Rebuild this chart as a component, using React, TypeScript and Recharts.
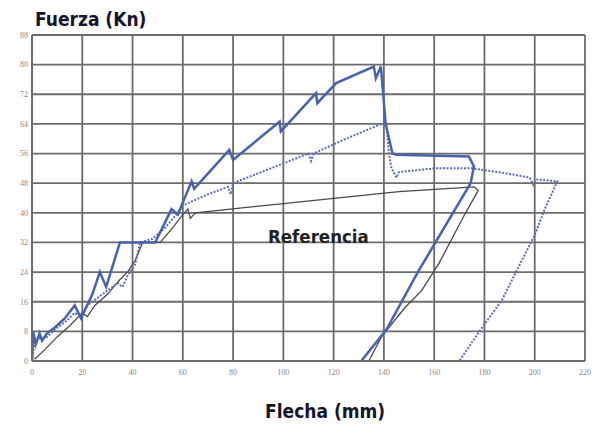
import React from 'react';
import { LineChart, Line, XAxis, YAxis, CartesianGrid } from 'recharts';

// Flecha (mm) vs Fuerza (Kn)
const xTicks = [0, 20, 40, 60, 80, 100, 120, 140, 160, 180, 200, 220];
const yTicks = [0, 8, 16, 24, 32, 40, 48, 56, 64, 72, 80, 88];

// solid blue specimen
const solidBlue: [number, number][] = [
  [0, 0], [0.5, 8], [1.5, 4.5], [3, 7.5], [4, 5.5], [6, 7.5], [9, 9], [13, 11.5],
  [17, 15], [19.5, 11.5], [24, 18], [27, 24], [29.5, 20], [35, 32], [49, 32],
  [55.5, 41], [58, 39.5], [63.5, 48.5], [64.5, 46.5], [78.5, 57], [80, 54.3],
  [98.5, 64.6], [99, 62], [113, 72.3], [113.5, 69.6], [121, 75], [136, 79.5],
  [136.8, 76.3], [138.8, 79.5], [140.7, 64], [143.4, 56], [145, 55.7],
  [173.8, 55.2], [175.8, 52.5], [174.5, 48], [153.5, 24], [141, 8.5], [131, 0],
];

// dotted blue specimen
const dottedBlue: [number, number][] = [
  [0, 0], [1, 5], [3, 6], [6, 6.5], [10, 9], [14, 11], [17, 13], [19, 12],
  [22, 15], [26, 17], [30, 19], [34, 21], [36, 20], [38, 23], [41, 26], [43, 32],
  [48, 33], [53, 36], [58, 40], [60, 42], [70, 45], [78, 47], [79, 45], [80, 48],
  [95, 52], [110, 56], [111, 54], [112, 56], [125, 60], [139, 64], [141, 63.7],
  [142, 56], [143, 52], [145, 49.5], [146, 51], [160, 52], [175, 52], [190, 50.5],
  [198, 49.5], [199.5, 47.5], [201, 49], [209, 48.5], [204, 41], [200, 34],
  [194, 26], [187, 16.5], [178, 8], [170, 0],
];

// thin grey "Referencia"
const referencia: [number, number][] = [
  [1, 0.5], [5, 3], [10, 6.5], [15, 9.5], [20, 13], [22, 12], [25, 15], [30, 18],
  [35, 22], [38, 24], [41, 27], [44, 32], [51, 32], [56, 36], [60, 39.5], [62, 41],
  [63, 38.5], [65, 40], [100, 42.5], [146, 45.7], [176, 47], [177.5, 46],
  [172.5, 40], [162, 26.5], [155, 19], [148.5, 14.5], [139, 6.5], [134, 0],
];

const toRows = (pts: [number, number][]) => pts.map(([x, y]) => ({ x, y }));

const titleFont = "'DejaVu Sans Condensed', 'Liberation Sans Narrow', Roboto, sans-serif";
const gridColor = '#6c6c6c';

export default function App() {
  return (
    <div style={{ position: 'absolute', left: 0, top: 0, width: 592, height: 430, background: '#fff' }}>
      <LineChart width={592} height={430} margin={{ top: 35, right: 7, bottom: 49, left: 6 }}>
        <CartesianGrid stroke={gridColor} strokeWidth={1.8} />
        <XAxis
          dataKey="x"
          type="number"
          domain={[0, 220]}
          ticks={xTicks}
          height={20}
          axisLine={{ stroke: gridColor, strokeWidth: 1.8 }}
          tickLine={false}
          tick={{ fontSize: 8, fill: '#8a8a8a', fontFamily: 'serif' }}
          allowDataOverflow
        />
        <YAxis
          type="number"
          domain={[0, 88]}
          ticks={yTicks}
          width={26}
          tickSize={2}
          axisLine={{ stroke: gridColor, strokeWidth: 1.8 }}
          tickLine={false}
          tick={{ fontSize: 8, fill: '#8a8a8a', fontFamily: 'serif' }}
        />
        <Line
          data={toRows(referencia)}
          dataKey="y"
          type="linear"
          stroke="#4a4a4a"
          strokeWidth={1.3}
          dot={false}
          isAnimationActive={false}
        />
        <Line
          data={toRows(dottedBlue)}
          dataKey="y"
          type="linear"
          stroke="#5a6db4"
          strokeWidth={2}
          strokeDasharray="2 1.5"
          dot={false}
          isAnimationActive={false}
        />
        <Line
          data={toRows(solidBlue)}
          dataKey="y"
          type="linear"
          stroke="#4863ae"
          strokeWidth={2.5}
          dot={false}
          isAnimationActive={false}
        />
      </LineChart>
      <div style={{ position: 'absolute', left: 35, top: 8, fontFamily: titleFont, fontWeight: 'bold', fontSize: 19, color: '#15152a', whiteSpace: 'nowrap' }}>
        Fuerza (Kn)
      </div>
      <div style={{ position: 'absolute', left: 268, top: 226, fontFamily: titleFont, fontWeight: 'bold', fontSize: 18.5, color: '#222', whiteSpace: 'nowrap' }}>
        Referencia
      </div>
      <div style={{ position: 'absolute', left: 265, top: 400, fontFamily: titleFont, fontWeight: 'bold', fontSize: 19, color: '#15152a', whiteSpace: 'nowrap' }}>
        Flecha (mm)
      </div>
    </div>
  );
}
